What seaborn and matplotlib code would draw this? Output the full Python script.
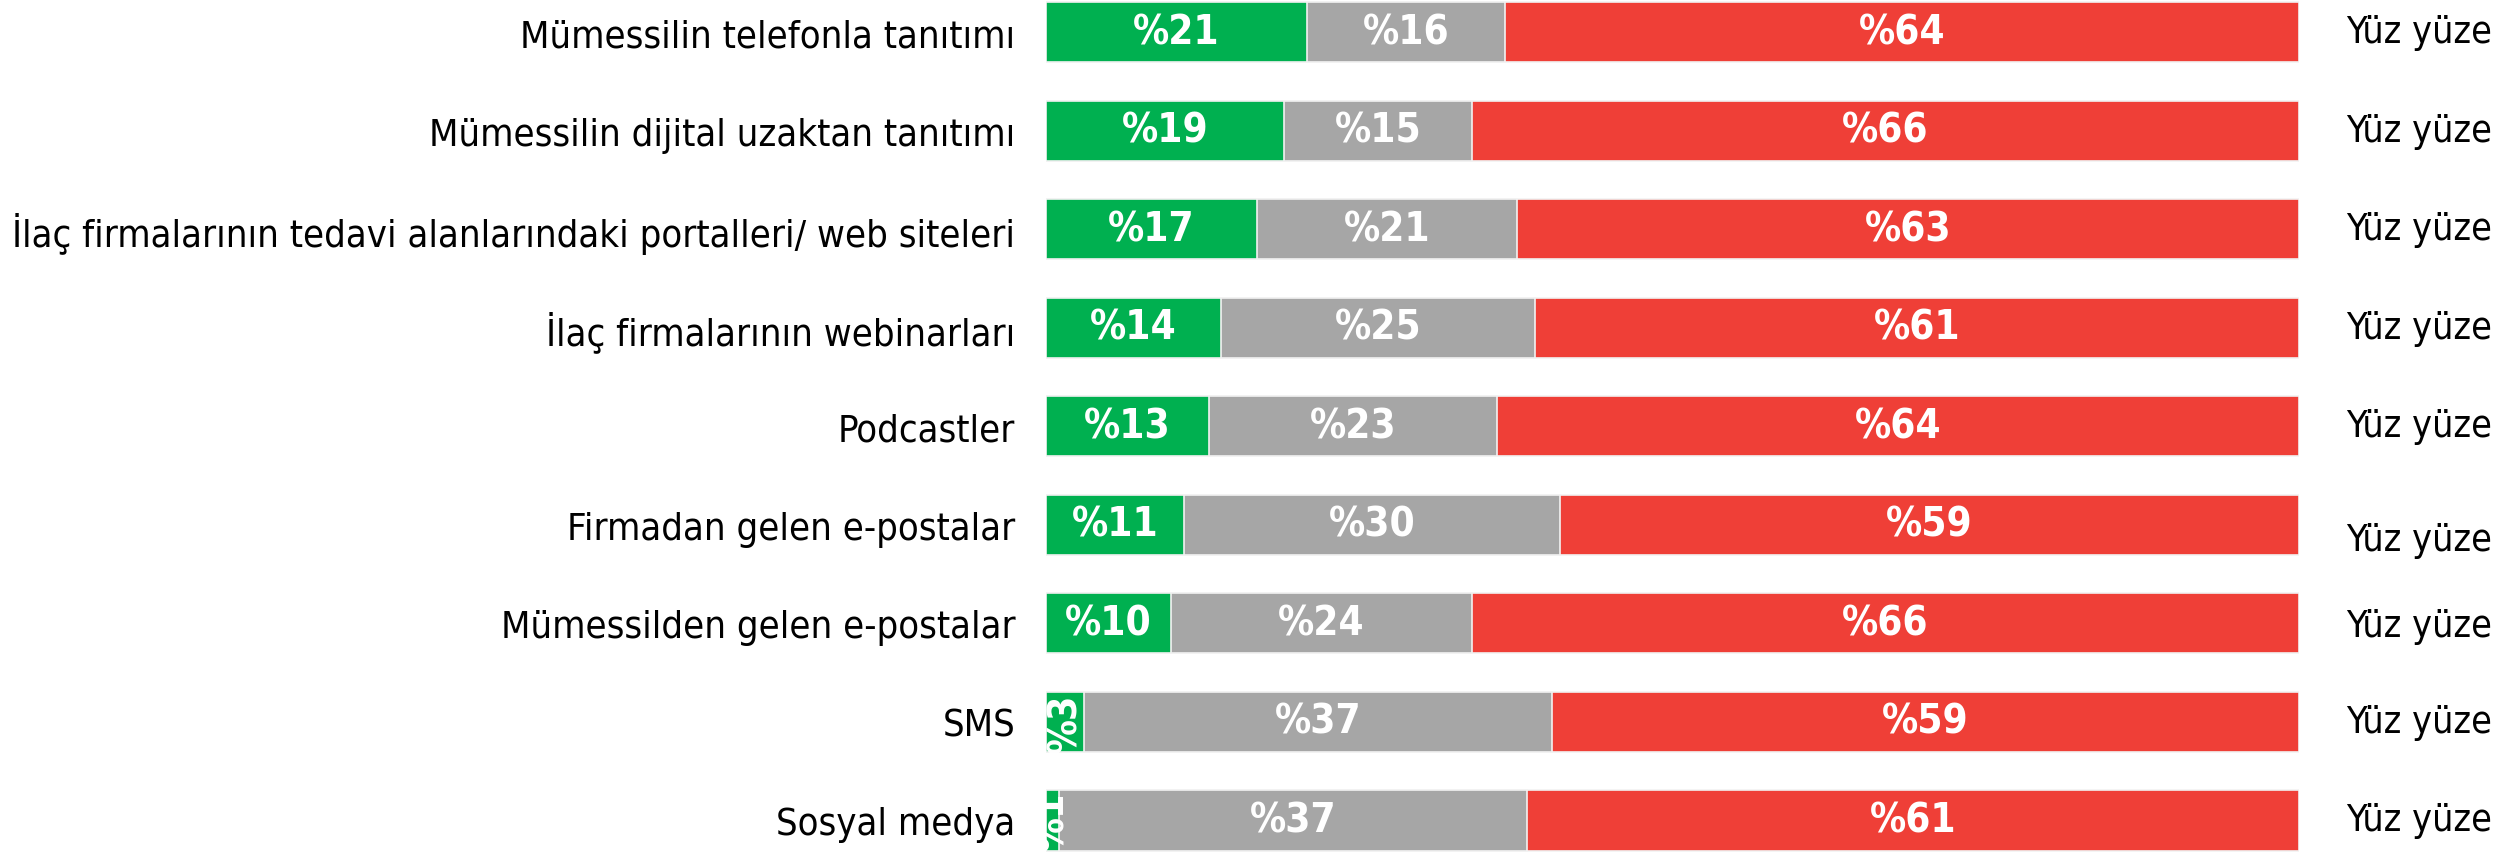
import matplotlib
matplotlib.use("Agg")
import matplotlib.pyplot as plt
import matplotlib.transforms as mtransforms
import numpy as np
import pandas as pd
import seaborn as sns

categories = [
    "Mümessilin telefonla tanıtımı",
    "Mümessilin dijital uzaktan tanıtımı",
    "İlaç firmalarının tedavi alanlarındaki portalleri/ web siteleri",
    "İlaç firmalarının webinarları",
    "Podcastler",
    "Firmadan gelen e-postalar",
    "Mümessilden gelen e-postalar",
    "SMS",
    "Sosyal medya",
]
digital = [21, 19, 17, 14, 13, 11, 10, 3, 1]
neutral = [16, 15, 21, 25, 23, 30, 24, 37, 37]
face = [64, 66, 63, 61, 64, 59, 66, 59, 61]
right_label = "Yüz yüze"

GREEN = "#00B050"
GRAY = "#A6A6A6"
RED = "#EF3F37"

sns.set_style("white")
plt.rcParams["font.family"] = ["DejaVu Sans"]
plt.rcParams["font.stretch"] = "condensed"
plt.rcParams["text.color"] = "black"
plt.rcParams["ytick.color"] = "black"

df = pd.DataFrame({"cat": categories, "g": digital, "n": neutral, "r": face})
tot = df[["g", "n", "r"]].sum(axis=1)
# normalise so each bar fills the full width
df["g_pct"] = df["g"] / tot * 100
df["n_pct"] = df["n"] / tot * 100
df["r_pct"] = df["r"] / tot * 100
df["cum_g"] = df["g_pct"]
df["cum_n"] = df["g_pct"] + df["n_pct"]
df["cum_r"] = df["cum_n"] + df["r_pct"]

fig = plt.figure(figsize=(25.16, 8.54), dpi=100)
ax = fig.add_axes([1046 / 2516, 0, 1253 / 2516, 1])

bw = 0.61
for col, color in [("cum_r", RED), ("cum_n", GRAY), ("cum_g", GREEN)]:
    sns.barplot(data=df, x=col, y="cat", orient="h", color=color, width=bw,
                edgecolor="#F2F2F2", linewidth=1.2, ax=ax, saturation=1)

ax.set_xlim(0, 100)
ax.set_ylim(8.33, -0.335)
ax.set_xlabel("")
ax.set_ylabel("")
ax.set_xticks([])
ax.tick_params(axis="y", length=0, pad=22, labelsize=27.4, labelcolor="black")
for s in ax.spines.values():
    s.set_visible(False)

fs = 29
for i, row in df.iterrows():
    segs = [(0, row["cum_g"], row["g"]),
            (row["cum_g"], row["cum_n"], row["n"]),
            (row["cum_n"], row["cum_r"], row["r"])]
    for left, right, val in segs:
        xc = (left + right) / 2
        if right - left < 5:
            ax.text(xc, i, f"%{val}", color="white", fontsize=fs - 1, fontweight="bold",
                    ha="center", va="center", rotation=90, clip_on=True)
        else:
            ax.text(xc, i, f"%{val}", color="white", fontsize=fs, fontweight="bold",
                    ha="center", va="center")

# the right-hand labels are not all exactly centred on their bars
label_shift = [0, 0, 0, 0, 0, 0.15, 0.03, 0, 0]
trans = mtransforms.blended_transform_factory(ax.transAxes, ax.transData)
for i in range(len(categories)):
    ax.text(1.0375, i + label_shift[i], right_label, transform=trans, fontsize=27,
            ha="left", va="center", clip_on=False, color="black")

fig.savefig("out.png", dpi=100)
